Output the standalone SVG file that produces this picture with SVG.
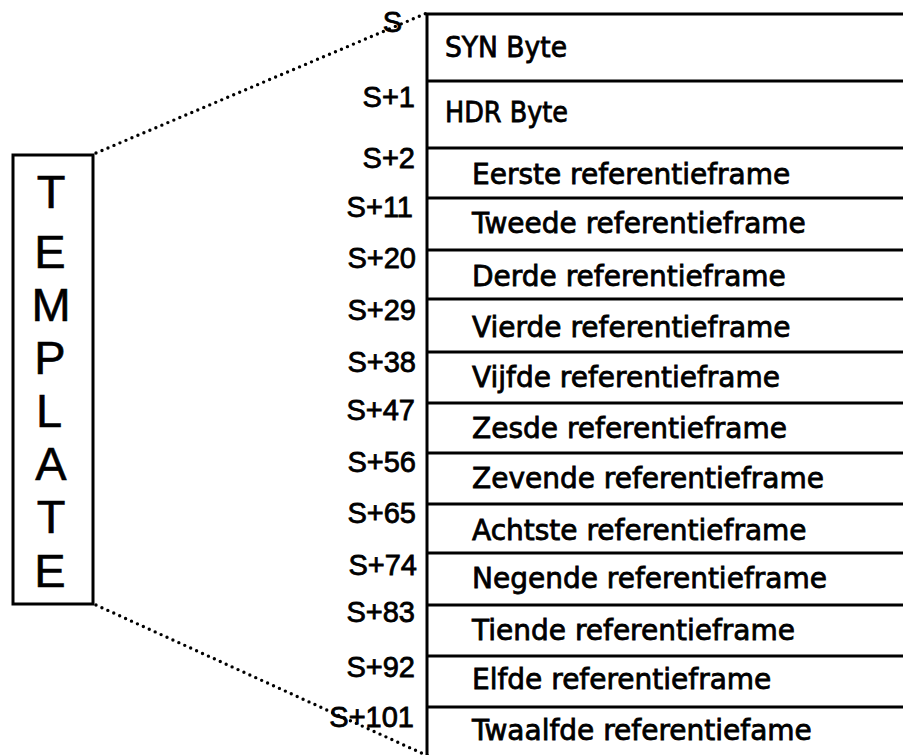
<svg xmlns="http://www.w3.org/2000/svg" width="903" height="755" viewBox="0 0 903 755">
  <style>
    .frame { fill: none; stroke: #000; stroke-width: 3; }
    .rule { stroke: #000; stroke-width: 3; }
    .dots { fill: none; stroke: #000; stroke-width: 3.4; stroke-linecap: round; stroke-dasharray: 0 6.5; }
    .big { font-family: "Liberation Sans", Arial, sans-serif; font-size: 47px; text-anchor: middle; fill: #000; stroke: #000; stroke-width: 0.6; }
    .addr { font-family: "Liberation Sans", Arial, sans-serif; font-size: 29px; text-anchor: end; fill: #000; stroke: #000; stroke-width: 0.8; }
    .cell { font-family: "DejaVu Sans", Verdana, sans-serif; font-size: 28px; fill: #000; stroke: #000; stroke-width: 0.8; }
  </style>
  <rect width="903" height="755" fill="#fff"/>

  <!-- zoom connectors from the template box to the memory map -->
  <g id="connectors">
    <line class="dots" x1="96" y1="153" x2="427" y2="13"/>
    <line class="dots" x1="96" y1="605" x2="428" y2="756"/>
  </g>

  <!-- vertical TEMPLATE box -->
  <g id="template">
    <rect class="frame" x="13" y="155" width="80" height="449"/>
    <text class="big" x="51" y="208">T</text>
    <text class="big" x="50" y="268">E</text>
    <text class="big" x="51" y="321">M</text>
    <text class="big" x="50" y="374">P</text>
    <text class="big" x="49" y="427">L</text>
    <text class="big" x="51" y="480">A</text>
    <text class="big" x="51" y="533">T</text>
    <text class="big" x="50" y="587">E</text>
  </g>

  <!-- memory map table -->
  <g id="table">
    <line class="rule" x1="427" y1="13" x2="427" y2="755"/>
    <line class="rule" x1="426" y1="14" x2="903" y2="14"/>
    <line class="rule" x1="426" y1="81" x2="903" y2="81"/>
    <line class="rule" x1="426" y1="148" x2="903" y2="148"/>
    <line class="rule" x1="426" y1="198" x2="903" y2="198"/>
    <line class="rule" x1="426" y1="250" x2="903" y2="250"/>
    <line class="rule" x1="426" y1="299" x2="903" y2="299"/>
    <line class="rule" x1="426" y1="352" x2="903" y2="352"/>
    <line class="rule" x1="426" y1="403" x2="903" y2="403"/>
    <line class="rule" x1="426" y1="453" x2="903" y2="453"/>
    <line class="rule" x1="426" y1="504" x2="903" y2="504"/>
    <line class="rule" x1="426" y1="553" x2="903" y2="553"/>
    <line class="rule" x1="426" y1="605" x2="903" y2="605"/>
    <line class="rule" x1="426" y1="656" x2="903" y2="656"/>
    <line class="rule" x1="426" y1="707" x2="903" y2="707"/>
  </g>

  <g id="row-syn"><text class="cell" x="445" y="57" textLength="122" lengthAdjust="spacingAndGlyphs">SYN Byte</text></g>
  <g id="row-hdr"><text class="cell" x="445" y="122" textLength="123" lengthAdjust="spacingAndGlyphs">HDR Byte</text></g>
  <g id="row-1"><text class="cell" x="472" y="184">Eerste referentieframe</text></g>
  <g id="row-2"><text class="cell" x="472" y="233">Tweede referentieframe</text></g>
  <g id="row-3"><text class="cell" x="472" y="286">Derde referentieframe</text></g>
  <g id="row-4"><text class="cell" x="472" y="337">Vierde referentieframe</text></g>
  <g id="row-5"><text class="cell" x="472" y="387">Vijfde referentieframe</text></g>
  <g id="row-6"><text class="cell" x="472" y="438">Zesde referentieframe</text></g>
  <g id="row-7"><text class="cell" x="472" y="488">Zevende referentieframe</text></g>
  <g id="row-8"><text class="cell" x="472" y="540">Achtste referentieframe</text></g>
  <g id="row-9"><text class="cell" x="472" y="588">Negende referentieframe</text></g>
  <g id="row-10"><text class="cell" x="472" y="640">Tiende referentieframe</text></g>
  <g id="row-11"><text class="cell" x="472" y="689">Elfde referentieframe</text></g>
  <g id="row-12"><text class="cell" x="472" y="740">Twaalfde referentiefame</text></g>

  <!-- address offsets -->
  <g id="addresses">
    <text class="addr" x="402" y="32">S</text>
    <text class="addr" x="415" y="107">S+1</text>
    <text class="addr" x="415" y="168">S+2</text>
    <text class="addr" x="413" y="217">S+11</text>
    <text class="addr" x="416" y="268">S+20</text>
    <text class="addr" x="416" y="320">S+29</text>
    <text class="addr" x="416" y="372">S+38</text>
    <text class="addr" x="415" y="420">S+47</text>
    <text class="addr" x="416" y="472">S+56</text>
    <text class="addr" x="416" y="523">S+65</text>
    <text class="addr" x="417" y="575">S+74</text>
    <text class="addr" x="415" y="622">S+83</text>
    <text class="addr" x="415" y="677">S+92</text>
    <text class="addr" x="414" y="727">S+101</text>
  </g>
</svg>
